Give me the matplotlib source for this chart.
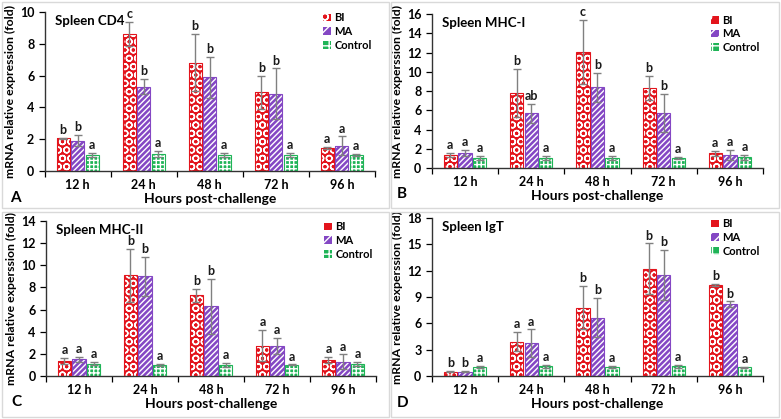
import matplotlib
matplotlib.use("Agg")
import matplotlib.pyplot as plt
import numpy as np
from matplotlib.patches import Rectangle, Patch

plt.rcParams['font.family'] = ['Lato', 'DejaVu Sans']

hours = ["12 h", "24 h", "48 h", "72 h", "96 h"]
groups = ["BI", "MA", "Control"]

# Panel A: Spleen CD4
cd4_bi = [2.05, 8.6, 6.8, 4.95, 1.45]
cd4_bi_err = [0.05, 0.75, 1.8, 1.05, 0.05]
cd4_ma = [1.9, 5.3, 5.9, 4.85, 1.6]
cd4_ma_err = [0.35, 0.47, 1.3, 1.6, 0.57]
cd4_ct = [1.0, 1.05, 1.0, 1.0, 1.0]
cd4_ct_err = [0.15, 0.2, 0.12, 0.12, 0.05]
cd4_let = [["b", "c", "b", "b", "a"], ["b", "b", "b", "b", "a"], ["a", "a", "a", "a", "a"]]

# Panel B: Spleen MHC-I
mhc1_bi = [1.35, 7.75, 12.05, 8.35, 1.55]
mhc1_bi_err = [0.25, 2.5, 3.3, 1.25, 0.25]
mhc1_ma = [1.55, 5.7, 8.4, 5.7, 1.35]
mhc1_ma_err = [0.3, 1.0, 1.5, 2.0, 0.5]
mhc1_ct = [1.05, 1.05, 1.05, 1.05, 1.1]
mhc1_ct_err = [0.2, 0.2, 0.2, 0.1, 0.3]
mhc1_let = [["a", "b", "c", "b", "a"], ["a", "ab", "b", "b", "a"], ["a", "a", "a", "a", "a"]]

# Panel C: Spleen MHC-II
mhc2_bi = [1.35, 9.1, 7.3, 2.75, 1.45]
mhc2_bi_err = [0.25, 2.4, 0.6, 1.4, 0.25]
mhc2_ma = [1.5, 9.0, 6.3, 2.7, 1.3]
mhc2_ma_err = [0.2, 1.75, 2.5, 0.75, 0.65]
mhc2_ct = [1.1, 1.0, 1.0, 1.0, 1.1]
mhc2_ct_err = [0.15, 0.1, 0.15, 0.05, 0.2]
mhc2_let = [["a", "b", "b", "a", "a"], ["a", "b", "b", "a", "a"], ["a", "a", "a", "a", "a"]]

# Panel D: Spleen IgT
igt_bi = [0.5, 3.9, 7.8, 12.2, 10.4]
igt_bi_err = [0.05, 1.1, 2.5, 2.9, 0.1]
igt_ma = [0.5, 3.75, 6.65, 11.55, 8.2]
igt_ma_err = [0.05, 1.55, 2.25, 2.85, 0.3]
igt_ct = [1.0, 1.1, 1.0, 1.1, 1.0]
igt_ct_err = [0.1, 0.15, 0.1, 0.2, 0.05]
igt_let = [["b", "a", "b", "b", "b"], ["b", "a", "b", "b", "b"], ["a", "a", "a", "a", "a"]]

colors = ["#e3141c", "#8447c4", "#1fb457"]
hatches = ["OO", "//////", "++++"]
leg_hatches = ["o", "///", "++"]

panels = [
    dict(title="Spleen CD4", letter="A", ymax=10, ystep=2,
         vals=[cd4_bi, cd4_ma, cd4_ct], errs=[cd4_bi_err, cd4_ma_err, cd4_ct_err], lets=cd4_let,
         ylabel="mRNA relative expression (fold)",
         pos=[0.0572, 0.5919, 0.4228, 0.3795]),
    dict(title="Spleen MHC-I", letter="B", ymax=16, ystep=2,
         vals=[mhc1_bi, mhc1_ma, mhc1_ct], errs=[mhc1_bi_err, mhc1_ma_err, mhc1_ct_err], lets=mhc1_let,
         ylabel="mRNA relative experssion (fold)",
         pos=[0.553, 0.599, 0.424, 0.3676]),
    dict(title="Spleen MHC-II", letter="C", ymax=14, ystep=2,
         vals=[mhc2_bi, mhc2_ma, mhc2_ct], errs=[mhc2_bi_err, mhc2_ma_err, mhc2_ct_err], lets=mhc2_let,
         ylabel="mRNA relative experssion (fold)",
         pos=[0.0589, 0.1026, 0.4225, 0.37]),
    dict(title="Spleen IgT", letter="D", ymax=18, ystep=3,
         vals=[igt_bi, igt_ma, igt_ct], errs=[igt_bi_err, igt_ma_err, igt_ct_err], lets=igt_let,
         ylabel="mRNA relative experssion (fold)",
         pos=[0.553, 0.1026, 0.424, 0.377]),
]

fig = plt.figure(figsize=(7.81, 4.19), dpi=100)
fig.patch.set_facecolor("white")

# panel frames
for (x0, y0, x1, y1) in [(2, 2, 389, 208), (391, 2, 779, 208), (2, 212, 389, 417), (391, 212, 779, 417)]:
    fig.patches.append(Rectangle((x0 / 781, 1 - y1 / 419), (x1 - x0) / 781, (y1 - y0) / 419,
                                 transform=fig.transFigure, fill=False, edgecolor="#d9d9d9", linewidth=1.0))

x = np.arange(len(hours))
w = 0.2
offs = [-0.22, 0.0, 0.22]
for p in panels:
    ax = fig.add_axes(p["pos"])
    for i in range(3):
        xs = x + offs[i]
        ax.bar(xs, p["vals"][i], width=w, color=colors[i], edgecolor="white", hatch=hatches[i], linewidth=0, zorder=2)
        ax.bar(xs, p["vals"][i], width=w, facecolor="none", edgecolor=colors[i], linewidth=0.8, zorder=3)
        ax.errorbar(xs, p["vals"][i], yerr=p["errs"][i], fmt="none", ecolor="#808080", elinewidth=1.0,
                    capsize=3, capthick=1.0, zorder=4)
        for j in range(len(hours)):
            top = p["vals"][i][j] + p["errs"][i][j]
            ax.text(xs[j], top + p["ymax"] * 0.012, p["lets"][i][j], ha="center", va="bottom",
                    fontsize=9, fontweight="bold", color="#1a1a1a")
    ax.set_xlim(-0.5, len(hours) - 0.5)
    ax.set_ylim(0, p["ymax"])
    ax.set_yticks(np.arange(0, p["ymax"] + 0.01, p["ystep"]))
    ax.set_xticks(x)
    ax.set_xticklabels(hours, fontsize=9, fontweight="bold")
    ax.set_xticks(np.arange(-0.5, len(hours)), minor=True)
    ax.tick_params(axis="x", which="major", length=0, pad=6)
    ax.tick_params(axis="x", which="minor", length=4, width=0.9, direction="out")
    ax.tick_params(axis="y", length=4, width=0.9, labelsize=9)
    for lab in ax.get_yticklabels():
        lab.set_fontweight("bold")
    for s in ["top", "right"]:
        ax.spines[s].set_visible(False)
    for s in ["left", "bottom"]:
        ax.spines[s].set_color("#333333")
        ax.spines[s].set_linewidth(1.0)
    ax.set_ylabel(p["ylabel"], fontsize=8.8, fontweight="bold", labelpad=3)
    ax.set_xlabel("Hours post-challenge", fontsize=10, fontweight="bold", labelpad=1)
    ax.text(0.03, 0.98, p["title"], transform=ax.transAxes, ha="left", va="top",
            fontsize=9.5, fontweight="bold")
    ax.text(-0.09, -0.17, p["letter"], transform=ax.transAxes, ha="center", va="center",
            fontsize=11, fontweight="bold")
    handles = [Patch(facecolor=colors[i], edgecolor="white", hatch=leg_hatches[i], linewidth=0) for i in range(3)]
    leg = ax.legend(handles, groups, loc="upper right", bbox_to_anchor=(1.01, 1.04), frameon=False,
                    prop=dict(size=8, weight="bold"), handlelength=0.7, handleheight=0.7,
                    handletextpad=0.3, labelspacing=0.25, borderaxespad=0.2)

fig.savefig("out.png", dpi=100, facecolor="white")
